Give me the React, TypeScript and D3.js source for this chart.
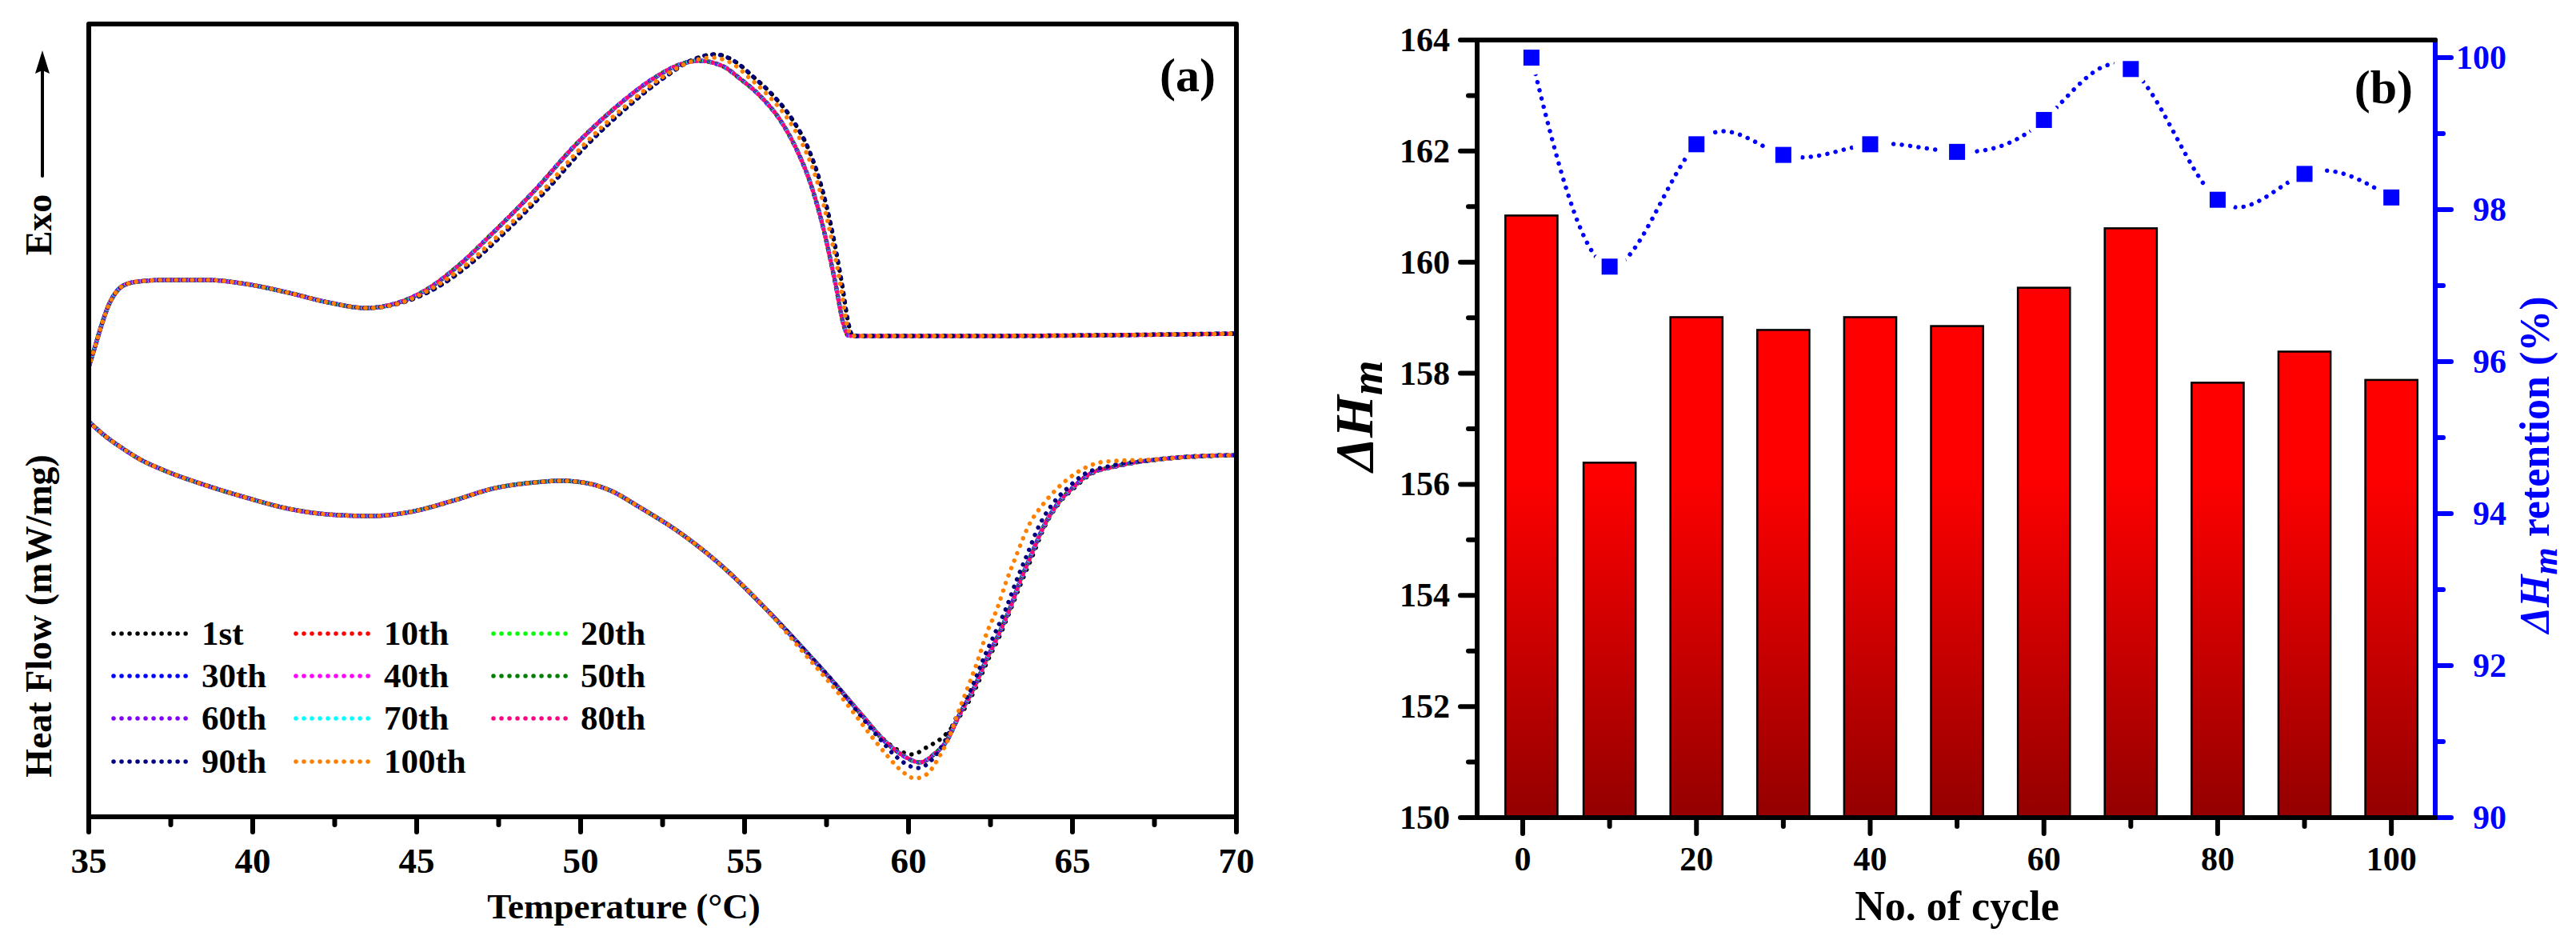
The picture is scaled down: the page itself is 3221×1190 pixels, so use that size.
import React from "react";
import * as d3 from "d3";

type Pt = [number, number];

// ---------- panel (a): DSC curves (temperature °C, heat flow mW/mg, arbitrary offset) ----------
const cycleNames = ["1st", "10th", "20th", "30th", "40th", "50th", "60th", "70th", "80th", "90th", "100th"];
const cycleColors = ["#000000", "#FF0000", "#00FF00", "#0000FF", "#FF00FF", "#008000", "#8000FF", "#00FFFF", "#FF0080", "#000080", "#FF8000"];
const tempTicks = [35, 40, 45, 50, 55, 60, 65, 70];

// cooling (crystallisation) curves, upper trace
const coolMain: Pt[] = [
  [35.0, 0.665], [35.2, 0.935], [35.4, 1.205], [35.6, 1.435], [35.8, 1.585], [36.05, 1.685], [36.5, 1.735],
  [37.3, 1.755], [38.6, 1.755], [39.8, 1.705], [41.1, 1.595], [42.3, 1.475], [43.45, 1.405], [44.3, 1.455],
  [45.3, 1.635], [46.3, 1.945], [47.3, 2.335], [48.6, 2.875], [49.8, 3.425], [51.1, 3.925], [52.3, 4.295],
  [53.0, 4.445], [53.6, 4.495], [54.35, 4.425], [54.85, 4.275], [55.5, 4.045], [56.1, 3.745], [56.6, 3.375],
  [57.0, 2.975], [57.4, 2.405], [57.75, 1.755], [58.05, 1.155], [58.15, 1.065], [58.35, 1.055], [62, 1.055],
  [66, 1.065], [70, 1.085],
];
const coolDark: Pt[] = [
  [35.0, 0.665], [35.2, 0.935], [35.4, 1.205], [35.6, 1.435], [35.8, 1.585], [36.05, 1.685], [36.5, 1.735],
  [37.3, 1.755], [38.6, 1.755], [39.8, 1.705], [41.1, 1.595], [42.3, 1.475], [43.5, 1.405], [44.4, 1.455],
  [45.5, 1.635], [46.6, 1.945], [47.65, 2.335], [48.95, 2.875], [50.15, 3.425], [51.45, 3.925], [52.65, 4.315],
  [53.4, 4.505], [54.1, 4.575], [54.75, 4.475], [55.25, 4.3], [55.85, 4.07], [56.45, 3.765], [56.95, 3.39],
  [57.3, 2.985], [57.65, 2.405], [57.95, 1.755], [58.2, 1.155], [58.28, 1.065], [58.45, 1.055], [62, 1.055],
  [66, 1.065], [70, 1.085],
];
const coolOrange: Pt[] = [
  [35.0, 0.665], [35.2, 0.935], [35.4, 1.205], [35.6, 1.435], [35.8, 1.585], [36.05, 1.685], [36.5, 1.735],
  [37.3, 1.755], [38.6, 1.755], [39.8, 1.705], [41.1, 1.595], [42.3, 1.475], [43.5, 1.405], [44.4, 1.455],
  [45.4, 1.635], [46.5, 1.945], [47.55, 2.335], [48.85, 2.875], [50.05, 3.425], [51.35, 3.925], [52.55, 4.305],
  [53.3, 4.475], [54.0, 4.535], [54.65, 4.455], [55.15, 4.28], [55.75, 4.05], [56.35, 3.75], [56.85, 3.38],
  [57.22, 2.98], [57.58, 2.405], [57.9, 1.755], [58.15, 1.155], [58.24, 1.065], [58.4, 1.055], [62, 1.055],
  [66, 1.065], [70, 1.085],
];

// heating (melting) curves, lower trace
const heatMain: Pt[] = [
  [35, -0.015], [35.5, -0.195], [36.05, -0.355], [36.6, -0.495], [37.3, -0.625], [38.6, -0.815], [39.8, -0.965],
  [41.1, -1.105], [42.3, -1.175], [43.6, -1.195], [44.8, -1.145], [46.1, -1.005], [47.3, -0.855], [48.6, -0.775],
  [49.4, -0.755], [50.2, -0.785], [50.9, -0.875], [51.8, -1.085], [53.1, -1.425], [54.35, -1.835], [55.6, -2.335],
  [56.85, -2.88], [57.9, -3.36], [58.56, -3.675], [59.29, -4.015], [59.78, -4.175], [60.35, -4.275], [60.8, -4.165],
  [61.15, -4.015], [61.56, -3.675], [62.0, -3.345], [62.35, -3.015], [62.75, -2.675], [63.1, -2.345], [63.4, -2.015],
  [63.75, -1.675], [64.1, -1.345], [64.6, -1.015], [65.0, -0.845], [65.5, -0.675], [66.3, -0.575], [67.66, -0.485],
  [69, -0.445], [70, -0.435],
];
const heatBlack: Pt[] = [
  [35, -0.015], [35.5, -0.195], [36.05, -0.355], [36.6, -0.495], [37.3, -0.625], [38.6, -0.815], [39.8, -0.965],
  [41.1, -1.105], [42.3, -1.175], [43.6, -1.195], [44.8, -1.145], [46.1, -1.005], [47.3, -0.855], [48.6, -0.775],
  [49.4, -0.755], [50.2, -0.785], [50.9, -0.875], [51.8, -1.085], [53.1, -1.425], [54.35, -1.835], [55.6, -2.335],
  [56.85, -2.88], [57.9, -3.36], [58.56, -3.675], [59.29, -4.005], [59.75, -4.135], [60.1, -4.175], [60.6, -4.075],
  [61.0, -3.975], [61.25, -3.875], [61.6, -3.675], [62.05, -3.345], [62.4, -3.015], [62.8, -2.675], [63.13, -2.345],
  [63.45, -2.015], [63.8, -1.675], [64.13, -1.345], [64.63, -1.015], [65.05, -0.845], [65.55, -0.675], [66.35, -0.575],
  [67.66, -0.485], [69, -0.445], [70, -0.435],
];
const heatNavy: Pt[] = [
  [35, -0.015], [35.5, -0.195], [36.05, -0.355], [36.6, -0.495], [37.3, -0.625], [38.6, -0.815], [39.8, -0.965],
  [41.1, -1.105], [42.3, -1.175], [43.6, -1.195], [44.8, -1.145], [46.1, -1.005], [47.3, -0.855], [48.6, -0.775],
  [49.4, -0.755], [50.2, -0.785], [50.9, -0.875], [51.8, -1.085], [53.1, -1.425], [54.35, -1.835], [55.6, -2.335],
  [56.85, -2.88], [57.9, -3.36], [58.5, -3.675], [59.2, -4.015], [59.6, -4.195], [60.3, -4.345], [60.75, -4.225],
  [61.1, -4.015], [61.5, -3.675], [61.92, -3.345], [62.25, -3.015], [62.62, -2.675], [62.98, -2.345], [63.28, -2.015],
  [63.62, -1.675], [63.95, -1.345], [64.45, -1.015], [64.85, -0.845], [65.35, -0.675], [66.2, -0.565], [67.66, -0.485],
  [69, -0.445], [70, -0.435],
];
const heatOrange: Pt[] = [
  [35, -0.015], [35.5, -0.195], [36.05, -0.355], [36.6, -0.495], [37.3, -0.625], [38.6, -0.815], [39.8, -0.965],
  [41.1, -1.105], [42.3, -1.175], [43.6, -1.195], [44.8, -1.145], [46.1, -1.005], [47.3, -0.855], [48.6, -0.775],
  [49.4, -0.755], [50.2, -0.785], [50.9, -0.875], [51.8, -1.085], [53.1, -1.425], [54.35, -1.835], [55.6, -2.335],
  [56.75, -2.88], [57.98, -3.47], [58.32, -3.65], [58.95, -3.99], [59.37, -4.2], [59.8, -4.385], [60.2, -4.475],
  [60.55, -4.425], [60.95, -4.195], [61.25, -3.945], [61.49, -3.675], [61.8, -3.345], [62.1, -3.015], [62.37, -2.675],
  [62.71, -2.345], [62.98, -2.015], [63.3, -1.675], [63.63, -1.345], [64.17, -1.015], [64.55, -0.845], [65.05, -0.675],
  [66.0, -0.515], [67.66, -0.485], [69, -0.445], [70, -0.435],
];

const coolingSeries = [coolDark, coolMain, coolMain, coolMain, coolMain, coolMain, coolMain, coolMain, coolMain, coolDark, coolOrange];
const heatingSeries = [heatBlack, heatMain, heatMain, heatMain, heatMain, heatMain, heatMain, heatMain, heatMain, heatNavy, heatOrange];

// ---------- panel (b): enthalpy vs cycle ----------
const cycles = [1, 10, 20, 30, 40, 50, 60, 70, 80, 90, 100];
const enthalpy = [160.84, 156.39, 159.01, 158.78, 159.01, 158.85, 159.54, 160.61, 157.83, 158.39, 157.88];
const retention = [100.0, 97.25, 98.86, 98.72, 98.86, 98.76, 99.18, 99.85, 98.13, 98.47, 98.16];
const cycleTicks = [0, 20, 40, 60, 80, 100];
const enthalpyTicks = [150, 152, 154, 156, 158, 160, 162, 164];
const retentionTicks = [90, 92, 94, 96, 98, 100];

const FONT = "'Liberation Serif', 'Times New Roman', Times, serif";
const BLUE = "#0000FF";

const A = { l: 111, r: 1546, t: 30, b: 1021 };
const B = { l: 1847, r: 3045, t: 50, b: 1022 };

export default function App() {
  const xA = d3.scaleLinear().domain([35, 70]).range([A.l, A.r]);
  const yA = d3.scaleLinear().domain([-4.955, 4.955]).range([A.b, A.t]);
  const lineA = d3
    .line<Pt>()
    .x((d) => xA(d[0]))
    .y((d) => yA(d[1]))
    .curve(d3.curveMonotoneX);

  const xB = d3.scaleLinear().domain([-5.25, 105.05]).range([B.l, B.r]);
  const yB = d3.scaleLinear().domain([150, 164]).range([B.b, B.t]);
  const yR = d3.scaleLinear().domain([90, 100.232]).range([B.b, B.t]);
  const barW = xB(6) - xB(0);
  const retentionLine = d3
    .line<number>()
    .x((_, i) => xB(cycles[i]))
    .y((d) => yR(d))
    .curve(d3.curveNatural)(retention);

  const minorA = d3.range(37.5, 70, 5);
  const minorCycle = [10, 30, 50, 70, 90];
  const minorEnth = [151, 153, 155, 157, 159, 161, 163];
  const minorRet = [91, 93, 95, 97, 99];

  const dots = "0.01 10";

  // legend layout: 3 columns, 4 rows
  const legCols = [
    { lx: 142, tx: 252 },
    { lx: 370, tx: 480 },
    { lx: 617, tx: 726 },
  ];
  const legRows = [792, 845, 898, 952];

  return (
    <svg
      width={3221}
      height={1190}
      style={{ position: "absolute", left: 0, top: 0, background: "#fff" }}
      fontFamily={FONT}
      fontWeight="bold"
    >
      <defs>
        <clipPath id="clipA">
          <rect x={A.l} y={A.t} width={A.r - A.l} height={A.b - A.t} />
        </clipPath>
        <linearGradient id="barGrad" gradientUnits="userSpaceOnUse" x1={0} y1={yB(156.2)} x2={0} y2={yB(150)}>
          <stop offset="0" stopColor="#FF0000" />
          <stop offset="0.55" stopColor="#C40000" />
          <stop offset="1" stopColor="#940000" />
        </linearGradient>
        <mask id="gapMask" maskUnits="userSpaceOnUse" x={0} y={0} width={3221} height={1190}>
          <rect x={0} y={0} width={3221} height={1190} fill="white" />
          {cycles.map((c, i) => (
            <circle key={c} cx={xB(c)} cy={yR(retention[i])} r={22} fill="black" />
          ))}
        </mask>
      </defs>

      {/* ================= panel (a) ================= */}
      <g clipPath="url(#clipA)">
        {cycleNames.map((name, i) => (
          <g key={name} fill="none" stroke={cycleColors[i]} strokeWidth={5.5} strokeLinecap="round"
            strokeDasharray={dots} strokeDashoffset={-i * 0.9}>
            <path d={lineA(heatingSeries[i]) || ""} />
            <path d={lineA(coolingSeries[i]) || ""} />
          </g>
        ))}
      </g>

      {/* frame */}
      <rect x={A.l} y={A.t} width={A.r - A.l} height={A.b - A.t} fill="none" stroke="#000" strokeWidth={6} strokeLinejoin="round" />
      {tempTicks.map((t) => (
        <g key={t}>
          <line x1={xA(t)} x2={xA(t)} y1={A.b} y2={A.b + 19} stroke="#000" strokeWidth={6} strokeLinecap="round" />
          <text x={xA(t)} y={A.b + 70} textAnchor="middle" fontSize={45}>{t}</text>
        </g>
      ))}
      {minorA.map((t) => (
        <line key={t} x1={xA(t)} x2={xA(t)} y1={A.b} y2={A.b + 10} stroke="#000" strokeWidth={6} strokeLinecap="round" />
      ))}
      <text x={780} y={1148} textAnchor="middle" fontSize={45}>Temperature (°C)</text>
      <text transform="translate(64,770) rotate(-90)" textAnchor="middle" fontSize={46}>Heat Flow (mW/mg)</text>
      <text transform="translate(64,281) rotate(-90)" textAnchor="middle" fontSize={46}>Exo</text>
      <line x1={53} x2={53} y1={220} y2={88} stroke="#000" strokeWidth={4} strokeLinecap="round" />
      <path d="M53,63 L62,92 L53,88 L44,92 Z" fill="#000" />
      <text x={1520} y={114} textAnchor="end" fontSize={60}>(a)</text>

      {/* legend */}
      {cycleNames.map((name, i) => {
        const col = legCols[i % 3];
        const y = legRows[Math.floor(i / 3)];
        return (
          <g key={name}>
            <line x1={col.lx} x2={col.lx + 100} y1={y} y2={y} stroke={cycleColors[i]} strokeWidth={5.5}
              strokeLinecap="round" strokeDasharray={dots} />
            <text x={col.tx} y={y + 14} fontSize={43}>{name}</text>
          </g>
        );
      })}

      {/* ================= panel (b) ================= */}
      {cycles.map((c, i) => (
        <rect key={c} x={xB(c) - barW / 2} y={yB(enthalpy[i])} width={barW} height={yB(150) - yB(enthalpy[i])}
          fill="url(#barGrad)" stroke="#000" strokeWidth={2.5} />
      ))}

      <path d={retentionLine || ""} fill="none" stroke={BLUE} strokeWidth={5.5} strokeLinecap="round"
        strokeDasharray="0.01 10.5" mask="url(#gapMask)" />
      {cycles.map((c, i) => (
        <rect key={c} x={xB(c) - 10} y={yR(retention[i]) - 10} width={20} height={20} fill={BLUE} />
      ))}

      {/* right axis (blue) */}
      <line x1={B.r} x2={B.r} y1={B.t} y2={B.b} stroke={BLUE} strokeWidth={6} strokeLinecap="round" />
      {retentionTicks.map((t) => (
        <g key={t}>
          <line x1={B.r} x2={B.r + 20} y1={yR(t)} y2={yR(t)} stroke={BLUE} strokeWidth={6} strokeLinecap="round" />
          <text x={3134} y={yR(t) + 14} textAnchor="end" fontSize={42} fill={BLUE}>{t}</text>
        </g>
      ))}
      {minorRet.map((t) => (
        <line key={t} x1={B.r} x2={B.r + 10} y1={yR(t)} y2={yR(t)} stroke={BLUE} strokeWidth={6} strokeLinecap="round" />
      ))}

      {/* left, top, bottom axes (black) */}
      <path d={`M${B.r},${B.t} L${B.l},${B.t} L${B.l},${B.b} L${B.r},${B.b}`} fill="none" stroke="#000" strokeWidth={6}
        strokeLinecap="round" strokeLinejoin="round" />
      {enthalpyTicks.map((t) => (
        <g key={t}>
          <line x1={B.l - 21} x2={B.l} y1={yB(t)} y2={yB(t)} stroke="#000" strokeWidth={6} strokeLinecap="round" />
          <text x={1813} y={yB(t) + 14} textAnchor="end" fontSize={42}>{t}</text>
        </g>
      ))}
      {minorEnth.map((t) => (
        <line key={t} x1={B.l - 11} x2={B.l} y1={yB(t)} y2={yB(t)} stroke="#000" strokeWidth={6} strokeLinecap="round" />
      ))}
      {cycleTicks.map((t) => (
        <g key={t}>
          <line x1={xB(t)} x2={xB(t)} y1={B.b} y2={B.b + 20} stroke="#000" strokeWidth={6} strokeLinecap="round" />
          <text x={xB(t)} y={B.b + 66} textAnchor="middle" fontSize={42}>{t}</text>
        </g>
      ))}
      {minorCycle.map((t) => (
        <line key={t} x1={xB(t)} x2={xB(t)} y1={B.b} y2={B.b + 11} stroke="#000" strokeWidth={6} strokeLinecap="round" />
      ))}

      <text x={2447} y={1150} textAnchor="middle" fontSize={52}>No. of cycle</text>
      <text transform="translate(1716,520) rotate(-90)" textAnchor="middle" fontSize={68}>
        <tspan fontStyle="italic">ΔH</tspan>
        <tspan fontStyle="italic" dy={12} fontSize={56}>m</tspan>
      </text>
      <text transform="translate(3187,581) rotate(-90)" textAnchor="middle" fontSize={52} fill={BLUE}>
        <tspan fontStyle="italic">ΔH</tspan>
        <tspan fontStyle="italic" dy={10} fontSize={44}>m</tspan>
        <tspan dy={-10}> retention (%)</tspan>
      </text>
      <text x={3017} y={129} textAnchor="end" fontSize={60}>(b)</text>
    </svg>
  );
}
